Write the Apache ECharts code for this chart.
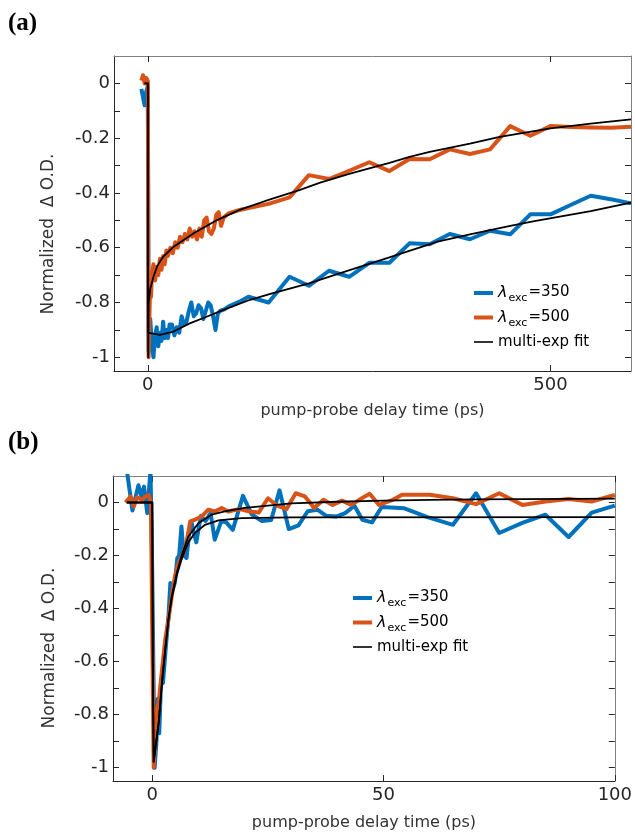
<!DOCTYPE html>
<html><head><meta charset="utf-8">
<script src="https://cdn.jsdelivr.net/npm/echarts@6/dist/echarts.min.js"></script>
<style>html,body{margin:0;padding:0;background:#fff}#c{width:635px;height:832px}</style>
</head><body><div id="c"></div>
<script>
// ---------- Panel (a) data ----------
const aOrangeT = [-8,-6,-4,-2,0,1,2,3,4,5,7,9,11,13,15,17,19,21,23,25,28,31,34,37,40,43,46,49,52,55,58,61,64,67,70,73,76,79,82,85,88,91,94,100,114,125,150,176,200,225,250,275,300,325,350,375,400,425,450,475,500,525,550,575,600];
const aOrangeV = [0.01,0.03,0.0,0.02,0.01,-1.0,-0.85,-0.73,-0.78,-0.70,-0.66,-0.72,-0.67,-0.70,-0.64,-0.68,-0.63,-0.66,-0.61,-0.63,-0.60,-0.62,-0.58,-0.60,-0.56,-0.58,-0.55,-0.57,-0.53,-0.56,-0.54,-0.57,-0.53,-0.56,-0.50,-0.49,-0.54,-0.55,-0.53,-0.48,-0.47,-0.52,-0.49,-0.475,-0.462,-0.455,-0.44,-0.416,-0.335,-0.349,-0.319,-0.288,-0.320,-0.276,-0.277,-0.241,-0.258,-0.241,-0.156,-0.191,-0.156,-0.159,-0.161,-0.162,-0.158];
const aBlueT = [-8,-6,-4,-2,0,1,2,3,5,7,9,11,13,15,17,19,21,23,25,27,30,33,36,39,42,45,48,51,54,57,60,63,66,69,72,75,78,81,84,87,90,95,100,114,125,150,176,200,225,250,275,300,325,350,375,400,425,450,475,500,525,550,575,600];
const aBlueV = [-0.02,-0.05,-0.08,-0.03,-0.01,-0.98,-0.90,-0.86,-0.95,-1.0,-0.92,-0.89,-0.96,-0.91,-0.94,-0.87,-0.93,-0.90,-0.93,-0.88,-0.88,-0.92,-0.89,-0.91,-0.85,-0.88,-0.87,-0.83,-0.80,-0.85,-0.84,-0.81,-0.82,-0.86,-0.83,-0.80,-0.81,-0.85,-0.90,-0.84,-0.83,-0.825,-0.815,-0.797,-0.779,-0.80,-0.706,-0.739,-0.684,-0.706,-0.655,-0.655,-0.584,-0.587,-0.55,-0.569,-0.538,-0.551,-0.478,-0.478,-0.444,-0.41,-0.423,-0.438];
const aFitOrangeT = [-4,0,0.5,1,3,7,12,19,32,57,86,114,150,189,214,250,300,325,350,400,437,500,550,600];
const aFitOrangeV = [0,0,-1.0,-0.80,-0.75,-0.706,-0.665,-0.633,-0.596,-0.547,-0.499,-0.462,-0.425,-0.389,-0.362,-0.33,-0.29,-0.268,-0.25,-0.22,-0.195,-0.164,-0.147,-0.131];
const aFitBlueT = [-4,0,0.5,3,15,32,52,73,94,127,150,200,239,300,360,400,450,480,550,600];
const aFitBlueV = [0,0,-0.91,-0.912,-0.918,-0.906,-0.876,-0.852,-0.827,-0.79,-0.77,-0.73,-0.693,-0.635,-0.578,-0.551,-0.52,-0.503,-0.466,-0.435];

// ---------- Panel (b) data ----------
const bOrangeT = [-5.8,-4.7,-4,-3.3,-2.2,-1.5,-0.8,-0.3,0.3,1,1.4,2.1,2.8,3.5,4.2,4.9,5.7,6.7,7.4,8.2,9.2,10.7,12.1,13.5,15,16.4,17.8,19,21,23,25,27,29,31,33,35,37,39,41,43,45,47,49,52,54,57,60,65,70,75,80,85,90,95,100];
const bOrangeV = [0.0,0.023,-0.015,0.02,0.01,0.023,0.029,0.0,-1.0,-0.78,-0.75,-0.63,-0.516,-0.44,-0.353,-0.278,-0.228,-0.19,-0.15,-0.071,-0.065,-0.052,-0.027,-0.034,-0.021,-0.034,-0.028,-0.025,-0.034,-0.038,0.016,-0.012,-0.025,0.035,0.023,-0.021,0.01,-0.009,0.007,-0.009,0.013,0.033,-0.009,0.01,0.029,0.029,0.029,0.016,-0.006,0.035,-0.009,0.004,0.013,0.004,0.029];
const bBlueT = [-5.5,-4.3,-3.0,-2.3,-1.8,-1.1,-0.4,-0.1,0.5,0.9,1.2,1.5,1.9,2.3,2.6,3.0,3.5,3.9,4.4,4.9,5.4,5.8,6.3,6.8,7.4,8.0,8.5,9.5,10.5,11.5,12.6,13.5,14.9,16,17.4,19.6,21.5,23.7,25.7,27.5,29.5,31.6,33.6,35.7,37.6,39.7,41.7,43.7,45.4,47.5,49.6,54.5,59.5,65,70,75,80,85,90,95,100];
const bBlueV = [0.12,-0.03,0.065,0.02,0.06,-0.04,0.12,-0.15,-1.0,-0.9,-0.74,-0.87,-0.666,-0.68,-0.616,-0.528,-0.428,-0.303,-0.33,-0.30,-0.21,-0.2,-0.09,-0.2,-0.209,-0.11,-0.077,-0.15,-0.05,-0.07,-0.04,-0.14,-0.071,-0.075,-0.103,0.025,-0.045,-0.07,-0.066,0.046,-0.1,-0.086,-0.033,-0.027,-0.05,-0.053,-0.04,-0.012,-0.065,-0.075,-0.017,-0.022,-0.055,-0.084,0.035,-0.115,-0.077,-0.046,-0.13,-0.038,-0.012];
const bFitOrangeT = [-5.5,0,0.1,0.3,1.4,2.1,2.8,3.5,4.2,5.3,6.4,7.8,10,12.8,16.4,20,30,40,50,60,70,80,100];
const bFitOrangeV = [0,0,-0.6,-0.977,-0.827,-0.677,-0.553,-0.44,-0.353,-0.265,-0.196,-0.128,-0.077,-0.046,-0.031,-0.02,-0.003,0.003,0.007,0.01,0.012,0.013,0.015];
const bFitBlueT = [-5.5,0,0.1,0.3,1.4,2.1,2.8,3.5,4.2,5.3,6.4,7.8,9.2,11.4,14.3,19.3,30,100];
const bFitBlueV = [0,0,-0.6,-0.977,-0.827,-0.677,-0.553,-0.44,-0.36,-0.275,-0.21,-0.15,-0.115,-0.084,-0.067,-0.059,-0.056,-0.055];

// ---------- ticks / labels ----------
const aXTicks = [0, 500];
const bXTicks = [0, 50, 100];
const yLabelTicks = [-1, -0.8, -0.6, -0.4, -0.2, 0];
const yMinorTicks = [-1, -0.9, -0.8, -0.7, -0.6, -0.5, -0.4, -0.3, -0.2, -0.1, 0];
const nameBlue = 'λexc=350', nameOrange = 'λexc=500', nameFit = 'multi-exp fit';
const xTitle = 'pump-probe delay time (ps)';
const yTitle = 'Normalized  Δ O.D.';

const BLUE = '#0072BD', ORANGE = '#D95319';
const FONT = 'DejaVu Sans';
const zip = (t, v) => t.map((x, i) => [x, v[i]]);

function xAx(grid, min, max, ticks, mirror) {
  return {
    type: 'value', gridIndex: grid, min: min, max: max, position: mirror ? 'top' : 'bottom',
    axisLine: {show: true, onZero: false, lineStyle: {color: mirror ? '#808080' : '#262626', width: 1}},
    axisTick: {show: true, inside: true, length: 6, customValues: ticks, lineStyle: {color: '#262626'}},
    axisLabel: {show: !mirror, customValues: ticks, margin: 5, fontSize: 18, fontFamily: FONT, color: '#262626',
      formatter: v => String(v)},
    splitLine: {show: false},
    name: mirror ? '' : xTitle, nameLocation: 'middle', nameGap: grid === 0 ? 32 : 34,
    nameTextStyle: {fontSize: 16, fontFamily: FONT, color: '#333'}
  };
}
function yAx(grid, mirror) {
  return {
    type: 'value', gridIndex: grid, min: -1.05, max: 0.1, position: mirror ? 'right' : 'left',
    axisLine: {show: true, onZero: false, lineStyle: {color: mirror ? '#808080' : '#262626', width: 1}},
    axisTick: {show: true, inside: true, length: 6, customValues: yMinorTicks, lineStyle: {color: '#262626'}},
    axisLabel: {show: !mirror, customValues: yLabelTicks, margin: 4, fontSize: 18, fontFamily: FONT, color: '#262626',
      formatter: v => String(Math.round(v * 10) / 10)},
    splitLine: {show: false}
  };
}
function line(name, data, color, width, xi, yi, z) {
  return {type: 'line', name: name, data: data, xAxisIndex: xi, yAxisIndex: yi, symbol: 'none', showSymbol: false,
    lineStyle: {color: color, width: width, join: 'round'}, itemStyle: {color: color}, z: z, silent: true, animation: false};
}
const rich = {
  l: {fontSize: 16, fontStyle: 'italic', fontFamily: FONT, lineHeight: 16, verticalAlign: 'top', color: '#000'},
  s: {fontSize: 11, fontFamily: FONT, lineHeight: 16, padding: [8, 1, 0, 1], verticalAlign: 'top', color: '#000'},
  n: {fontSize: 15, fontFamily: FONT, lineHeight: 16, verticalAlign: 'top', color: '#000'}
};
function legendFmt(name) {
  if (name.indexOf('λexc=') === 0) return '{l|λ}{s|exc}{n|=' + name.slice(5) + '}';
  return name;
}
// icon shapes: invisible move-to points fix the 19x24 box, the filled bar gives the stroke thickness
const THICK_ICON = 'path://M0,0M0,24M0,10h19v4h-19z';
const THIN_ICON = 'path://M0,0M0,24M0,11.2h19v1.6h-19z';
function legend(left, top) {
  return {
    left: left, top: top, orient: 'vertical', padding: 0, itemGap: 0.5, itemWidth: 19, itemHeight: 24,
    selectedMode: false,
    data: [{name: nameBlue, icon: THICK_ICON}, {name: nameOrange, icon: THICK_ICON}, {name: nameFit, icon: THIN_ICON}],
    formatter: legendFmt,
    textStyle: {fontSize: 15, fontFamily: FONT, color: '#000', lineHeight: 24, rich: rich}
  };
}

const chart = echarts.init(document.getElementById('c'), null, {renderer: 'canvas'});
chart.setOption({
  animation: false,
  backgroundColor: '#fff',
  grid: [
    {left: 114, top: 56, width: 517, height: 315, show: false},
    {left: 113, top: 476, width: 504, height: 306, show: false}
  ],
  xAxis: [xAx(0, -42, 600, aXTicks, false), xAx(0, -42, 600, aXTicks, true),
          xAx(1, -8.5, 100, bXTicks, false), xAx(1, -8.5, 100, bXTicks, true)],
  yAxis: [yAx(0, false), yAx(0, true), yAx(1, false), yAx(1, true)],
  legend: [legend(474, 281), legend(353, 586)],
  series: [
    line(nameBlue, zip(aBlueT, aBlueV), BLUE, 4, 0, 0, 2),
    line(nameOrange, zip(aOrangeT, aOrangeV), ORANGE, 4, 0, 0, 3),
    line(nameFit, zip(aFitOrangeT, aFitOrangeV), '#000', 1.8, 0, 0, 4),
    line(nameFit, zip(aFitBlueT, aFitBlueV), '#000', 1.8, 0, 0, 4),
    line(nameBlue, zip(bBlueT, bBlueV), BLUE, 4, 2, 2, 2),
    line(nameOrange, zip(bOrangeT, bOrangeV), ORANGE, 4, 2, 2, 3),
    line(nameFit, zip(bFitOrangeT, bFitOrangeV), '#000', 1.8, 2, 2, 4),
    line(nameFit, zip(bFitBlueT, bFitBlueV), '#000', 1.8, 2, 2, 4)
  ],
  graphic: [
    {type: 'text', x: 8, y: 24, style: {text: '(a)', font: 'bold 25px "Liberation Serif"', fill: '#000', verticalAlign: 'middle'}},
    {type: 'text', x: 8, y: 443, style: {text: '(b)', font: 'bold 25px "Liberation Serif"', fill: '#000', verticalAlign: 'middle'}},
    {type: 'text', x: 49, y: 234, rotation: Math.PI / 2, style: {text: yTitle, font: '17px "DejaVu Sans"', fill: '#333', align: 'center', verticalAlign: 'middle'}},
    {type: 'text', x: 50, y: 648, rotation: Math.PI / 2, style: {text: yTitle, font: '17px "DejaVu Sans"', fill: '#333', align: 'center', verticalAlign: 'middle'}}
  ]
});
</script></body></html>
